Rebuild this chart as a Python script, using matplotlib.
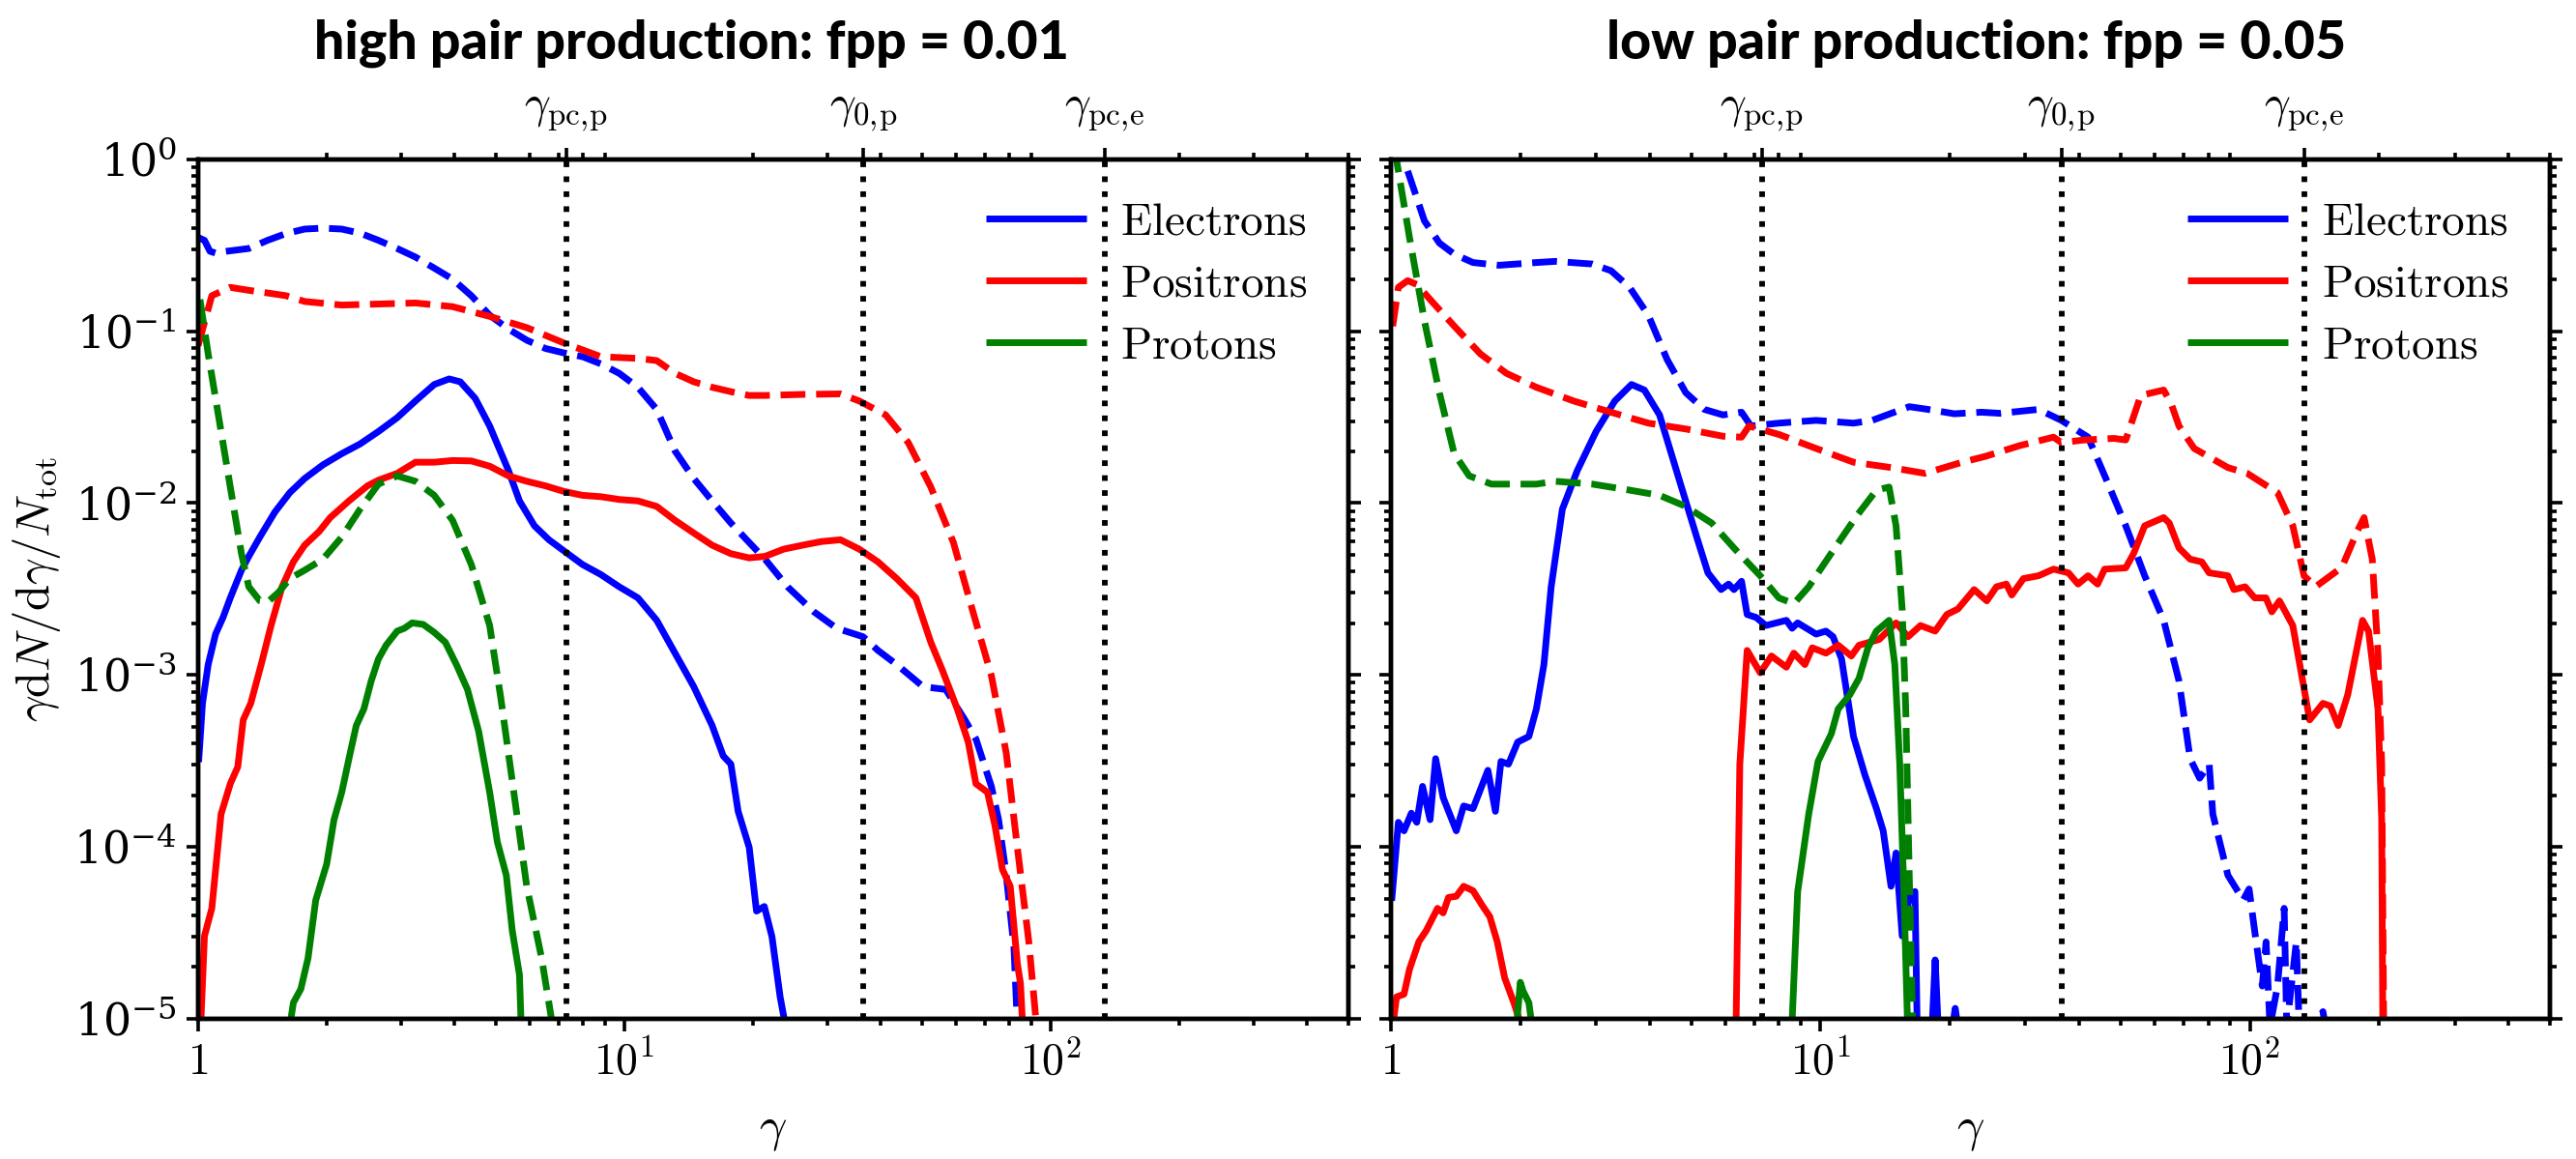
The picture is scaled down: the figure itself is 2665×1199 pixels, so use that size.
import matplotlib
matplotlib.use("Agg")
import matplotlib.pyplot as plt
from matplotlib.ticker import NullFormatter, LogLocator
from matplotlib.lines import Line2D

plt.rcParams['mathtext.fontset'] = 'cm'
plt.rcParams['font.family'] = 'serif'
plt.rcParams['font.serif'] = ['DejaVu Serif']

# ---------------- fpp = 0.01 (high pair production) ----------------
hi_e_dash_g = [1.0, 1.035, 1.066, 1.099, 1.167, 1.315, 1.455, 1.607, 1.778, 1.963, 2.173, 2.399, 2.649,
               2.931, 3.236, 3.581, 3.954, 4.375, 4.831, 5.346, 5.902, 6.531, 7.211, 7.98, 8.81, 9.727,
               10.76, 11.91, 13.15, 14.55, 16.07, 17.78, 19.63, 21.38, 24.15, 27.86, 31.48, 36.31, 39.36,
               43.55, 50.23, 56.75, 62.95, 66.83, 72.61, 75.51, 78.7, 82.04, 83.6]
hi_e_dash_f = [0.351, 0.338, 0.292, 0.285, 0.292, 0.303, 0.338, 0.370, 0.393, 0.398, 0.393, 0.372, 0.338,
               0.303, 0.270, 0.233, 0.201, 0.161, 0.124, 0.103, 0.0887, 0.0794, 0.0748, 0.0711, 0.0646, 0.0569,
               0.0472, 0.0351, 0.0201, 0.0139, 0.0103, 0.00766, 0.0059, 0.00472, 0.00326, 0.00233, 0.00187,
               0.00167, 0.00139, 0.00115, 0.000855, 0.000824, 0.000548, 0.000423, 0.000225, 0.000144,
               6.84e-5, 2.61e-5, 9e-6]

hi_p_dash_g = [1.0, 1.077, 1.19, 1.315, 1.455, 1.607, 1.778, 2.173, 2.649, 3.236, 3.954, 4.831, 5.902,
               7.211, 8.81, 10.76, 11.91, 13.15, 14.55, 16.07, 17.78, 19.63, 21.38, 26.18, 32.14, 35.56,
               41.02, 46.35, 52.36, 59.16, 65.46, 72.61, 78.7, 83.56, 88.9, 92.7]
hi_p_dash_f = [0.0824, 0.161, 0.180, 0.173, 0.167, 0.161, 0.149, 0.142, 0.144, 0.146, 0.139, 0.122, 0.105,
               0.0855, 0.0711, 0.0695, 0.0675, 0.0569, 0.0508, 0.0472, 0.0445, 0.0423, 0.0423, 0.0429, 0.0432,
               0.0393, 0.0326, 0.0225, 0.0124, 0.0059, 0.00242, 0.000993, 0.000351, 9.93e-5, 2.81e-5, 9e-6]

hi_i_dash_g = [1.01, 1.056, 1.121, 1.19, 1.264, 1.315, 1.396, 1.455, 1.545, 1.641, 1.778, 1.963, 2.173,
               2.399, 2.649, 2.931, 3.236, 3.581, 3.954, 4.375, 4.831, 5.129, 5.458, 5.902, 6.397, 6.792]
hi_i_dash_f = [0.153, 0.0738, 0.0303, 0.0124, 0.00508, 0.00326, 0.0027, 0.00265, 0.00303, 0.00364, 0.00407,
               0.00472, 0.00635, 0.00922, 0.0129, 0.0144, 0.0134, 0.0111, 0.00794, 0.00439, 0.00194,
               0.000738, 0.000242, 5.9e-5, 2.25e-5, 9e-6]

hi_e_sol_g = [1.004, 1.024, 1.056, 1.099, 1.144, 1.19, 1.264, 1.315, 1.396, 1.514, 1.641, 1.778, 1.963,
              2.173, 2.399, 2.649, 2.931, 3.236, 3.581, 3.882, 4.121, 4.467, 4.831, 5.346, 5.675, 6.152,
              6.653, 7.211, 7.98, 8.81, 9.727, 10.76, 11.91, 13.15, 14.55, 16.07, 17.06, 17.78, 18.49,
              19.63, 20.42, 21.3, 22.2, 23.2, 23.9]
hi_e_sol_f = [3.26e-4, 6.84e-4, 1.15e-3, 1.73e-3, 2.16e-3, 2.81e-3, 4.07e-3, 4.9e-3, 6.35e-3, 8.87e-3,
              0.0115, 0.0139, 0.0167, 0.0194, 0.0221, 0.0261, 0.0314, 0.0393, 0.049, 0.0528, 0.0508, 0.0407,
              0.0281, 0.0155, 0.0103, 0.00738, 0.00612, 0.00528, 0.00439, 0.00384, 0.00326, 0.00281,
              0.00208, 0.00134, 0.000855, 0.000508, 0.000338, 0.000303, 0.000161, 9.93e-5, 4.23e-5,
              4.5e-5, 3.0e-5, 1.34e-5, 9e-6]

hi_p_sol_g = [1.014, 1.035, 1.077, 1.132, 1.19, 1.239, 1.276, 1.329, 1.411, 1.483, 1.574, 1.673, 1.778,
              1.923, 2.042, 2.259, 2.496, 2.649, 2.931, 3.236, 3.581, 3.954, 4.375, 4.831, 5.346, 5.902,
              6.531, 7.211, 7.98, 8.81, 9.727, 10.76, 11.91, 13.15, 14.55, 16.07, 17.78, 19.63, 21.38,
              23.66, 26.18, 29.04, 32.14, 35.56, 39.36, 43.55, 48.31, 52.36, 55.7, 60.4, 64.1, 66.8, 71.1,
              74.0, 77.1, 80.4, 83.6, 85.0, 86.0]
hi_p_sol_f = [9e-6, 3.03e-5, 4.39e-5, 1.55e-4, 2.33e-4, 2.92e-4, 5.48e-4, 6.84e-4, 1.19e-3, 1.94e-3,
              3.26e-3, 4.55e-3, 5.69e-3, 6.84e-3, 8.24e-3, 0.0103, 0.0126, 0.0136, 0.0149, 0.0173, 0.0173,
              0.0177, 0.0176, 0.0164, 0.0144, 0.0134, 0.0126, 0.0117, 0.0111, 0.0109, 0.0105, 0.0103,
              0.00957, 0.00794, 0.0067, 0.00569, 0.00508, 0.0048, 0.0049, 0.0054, 0.00569, 0.00598,
              0.00612, 0.0054, 0.00455, 0.00364, 0.00281, 0.00155, 0.00107, 0.000635, 0.000407, 0.000233,
              0.000208, 0.000134, 7.38e-5, 5.9e-5, 2.08e-5, 1.6e-5, 9e-6]

hi_i_sol_g = [1.641, 1.673, 1.742, 1.811, 1.888, 2.003, 2.084, 2.173, 2.259, 2.35, 2.449, 2.547, 2.649,
              2.761, 2.931, 3.048, 3.177, 3.373, 3.581, 3.802, 4.036, 4.285, 4.55, 4.831, 5.035, 5.285,
              5.458, 5.675, 5.728]
hi_i_sol_f = [9e-6, 1.24e-5, 1.49e-5, 2.25e-5, 4.9e-5, 7.94e-5, 1.44e-4, 2.08e-4, 3.26e-4, 5.08e-4,
              6.35e-4, 9.22e-4, 1.24e-3, 1.49e-3, 1.80e-3, 1.87e-3, 2.01e-3, 1.97e-3, 1.77e-3, 1.55e-3,
              1.15e-3, 8.24e-4, 4.72e-4, 2.08e-4, 1.07e-4, 6.84e-5, 3.26e-5, 1.8e-5, 9e-6]

# ---------------- fpp = 0.05 (low pair production) ----------------
lo_e_dash_g = [1.0, 1.072, 1.127, 1.196, 1.296, 1.403, 1.552, 1.785, 2.18, 2.41, 2.944, 3.253, 3.594,
               3.973, 4.395, 4.857, 5.364, 5.93, 6.55, 6.89, 8.0, 9.77, 11.94, 13.2, 16.1, 17.8, 20.5,
               23.7, 26.2, 32.2, 36.4, 42.0, 46.5, 51.4, 56.9, 63.0, 68.4, 72.6, 76.4, 80.4, 82.0, 88.9,
               96.5, 99.6, 102.6, 106.9, 109.1, 111.4, 116, 120.2, 121.9, 128.3, 130.3, 140, 148, 150]
lo_e_dash_f = [1.3, 0.99, 0.684, 0.439, 0.326, 0.281, 0.251, 0.242, 0.251, 0.255, 0.246, 0.225, 0.180,
               0.124, 0.0684, 0.0439, 0.0351, 0.0326, 0.0338, 0.0281, 0.0292, 0.0303, 0.0292, 0.0303,
               0.0364, 0.0351, 0.0331, 0.0338, 0.0333, 0.0351, 0.0303, 0.0242, 0.0134, 0.00738, 0.00378,
               0.00208, 0.000922, 0.000326, 0.000251, 0.000303, 0.000155, 6.84e-5, 4.9e-5, 5.69e-5,
               3.26e-5, 1.55e-5, 2.8e-5, 9e-6, 1.55e-5, 4.39e-5, 9e-6, 2.8e-5, 9e-6, 9e-6, 1.1e-5, 9e-6]

lo_p_dash_g = [1.009, 1.04, 1.093, 1.149, 1.245, 1.404, 1.615, 1.857, 2.18, 2.661, 3.251, 3.972, 4.856,
               5.93, 6.55, 6.82, 8.0, 9.77, 11.94, 14.6, 17.5, 21.4, 24.2, 29.1, 34.9, 36.4, 41.1, 48.3,
               51.4, 55.7, 63.0, 65.6, 68.4, 74.2, 88.9, 98.6, 116, 125.9, 133.7, 142.2, 163.8, 177.8,
               184.5, 192.8, 198.8, 202.8, 205]
lo_p_dash_f = [0.107, 0.180, 0.197, 0.187, 0.149, 0.107, 0.0738, 0.0569, 0.0472, 0.0393, 0.0338, 0.0292,
               0.027, 0.0245, 0.0242, 0.0281, 0.0251, 0.0208, 0.0173, 0.0161, 0.0149, 0.0173, 0.0187,
               0.0216, 0.0242, 0.0225, 0.0233, 0.0238, 0.0233, 0.0423, 0.0455, 0.0378, 0.0281, 0.0208,
               0.0161, 0.0149, 0.0115, 0.00738, 0.00378, 0.00326, 0.00423, 0.00684, 0.00824, 0.00472,
               0.00134, 0.000303, 9e-6]

lo_i_dash_g = [1.0, 1.03, 1.104, 1.196, 1.296, 1.403, 1.521, 1.714, 2.18, 2.41, 2.944, 3.594, 4.22,
               4.857, 5.58, 6.29, 7.24, 8.0, 8.67, 9.39, 10.8, 12.2, 13.5, 14.45, 15.0, 15.5, 15.8, 16.1, 16.4]
lo_i_dash_f = [1.15, 0.99, 0.351, 0.115, 0.0439, 0.0194, 0.0144, 0.0129, 0.0129, 0.0134, 0.0129, 0.0119,
               0.0111, 0.00957, 0.00766, 0.00548, 0.00378, 0.00281, 0.0026, 0.00326, 0.00548, 0.00855,
               0.0119, 0.0124, 0.00738, 0.00242, 0.000635, 6.84e-5, 9e-6]

lo_e_sol_g = [1.005, 1.04, 1.072, 1.115, 1.148, 1.184, 1.233, 1.27, 1.322, 1.419, 1.476, 1.552, 1.681,
              1.75, 1.803, 1.877, 1.972, 2.094, 2.18, 2.27, 2.36, 2.506, 2.716, 3.003, 3.32, 3.63, 3.89,
              4.22, 4.66, 5.15, 5.47, 5.87, 6.11, 6.29, 6.55, 6.75, 7.09, 7.46, 8.33, 8.59, 8.85, 9.77,
              10.3, 10.7, 11.2, 11.94, 12.7, 13.5, 14.0, 14.6, 15.0, 15.5, 16.1, 16.6, 16.8, 18.2, 18.5,
              18.8, 20.3, 20.6, 20.9]
lo_e_sol_f = [5.08e-5, 1.39e-4, 1.24e-4, 1.57e-4, 1.39e-4, 2.25e-4, 1.44e-4, 3.26e-4, 1.94e-4, 1.24e-4,
              1.73e-4, 1.67e-4, 2.79e-4, 1.61e-4, 3.14e-4, 3.03e-4, 4.07e-4, 4.39e-4, 6.35e-4, 1.15e-3,
              3.26e-3, 9.22e-3, 0.0155, 0.0261, 0.0393, 0.049, 0.0455, 0.0326, 0.0144, 0.00635, 0.00393,
              0.00314, 0.00338, 0.00314, 0.00351, 0.00225, 0.00216, 0.00194, 0.00208, 0.00187, 0.00201,
              0.00173, 0.0018, 0.00167, 0.00124, 4.39e-4, 2.61e-4, 1.67e-4, 1.24e-4, 5.9e-5, 9.22e-5,
              3.03e-5, 5.08e-5, 5.5e-5, 9e-6, 9e-6, 2.2e-5, 9e-6, 9e-6, 1.15e-5, 9e-6]

lo_p_sol_g = [1.009, 1.03, 1.072, 1.104, 1.161, 1.208, 1.283, 1.322, 1.361, 1.419, 1.476, 1.552, 1.632,
              1.698, 1.767, 1.839, 1.932, 2.013, 6.36, 6.49, 6.75, 7.24, 7.69, 8.33, 8.67, 9.2, 9.57, 10.3,
              11.0, 11.8, 12.3, 13.7, 15.0, 16.0, 17.1, 18.5, 19.7, 20.9, 22.8, 24.4, 25.7, 27.1, 27.9,
              29.7, 32.2, 34.9, 37.8, 39.8, 42.0, 44.2, 45.9, 51.4, 53.6, 56.9, 63.0, 64.9, 68.4, 72.6,
              77.3, 80.4, 88.9, 91.8, 97.5, 102.6, 109, 112.5, 117.2, 125.9, 137.8, 148, 154, 160.6, 169,
              183, 189, 198.8, 202.8, 204]
lo_p_sol_f = [9e-6, 1.34e-5, 1.39e-5, 1.94e-5, 2.81e-5, 3.26e-5, 4.39e-5, 4.13e-5, 5.08e-5, 5.16e-5,
              5.9e-5, 5.56e-5, 4.55e-5, 3.93e-5, 2.81e-5, 1.73e-5, 1.24e-5, 9e-6, 9e-6, 3.03e-4, 1.39e-3,
              1.03e-3, 1.29e-3, 1.11e-3, 1.34e-3, 1.15e-3, 1.44e-3, 1.34e-3, 1.49e-3, 1.29e-3, 1.49e-3,
              1.61e-3, 2.01e-3, 1.67e-3, 1.94e-3, 1.8e-3, 2.25e-3, 2.42e-3, 3.14e-3, 2.7e-3, 3.26e-3,
              3.38e-3, 2.92e-3, 3.64e-3, 3.78e-3, 4.13e-3, 3.93e-3, 3.38e-3, 3.78e-3, 3.38e-3, 4.13e-3,
              4.2e-3, 5.08e-3, 7.38e-3, 8.24e-3, 7.66e-3, 5.48e-3, 4.72e-3, 4.55e-3, 3.93e-3, 3.78e-3,
              3.14e-3, 3.26e-3, 2.81e-3, 2.81e-3, 2.33e-3, 2.7e-3, 1.94e-3, 5.48e-4, 6.84e-4, 6.6e-4,
              5.08e-4, 7.66e-4, 2.08e-3, 1.8e-3, 6.35e-4, 1.44e-4, 9e-6]

lo_i_sol_g = [1.96, 2.0, 2.03, 2.094, 2.13, 8.58, 8.85, 9.39, 9.87, 10.6, 11.0, 11.7, 12.3, 12.9, 13.5,
              14.45, 14.9, 15.3, 15.6, 15.96]
lo_i_sol_f = [9e-6, 1.63e-5, 1.45e-5, 1.24e-5, 9e-6, 9e-6, 5.48e-5, 1.55e-4, 3.14e-4, 4.55e-4, 6.35e-4,
              7.66e-4, 9.57e-4, 1.44e-3, 1.8e-3, 2.08e-3, 1.15e-3, 3.03e-4, 6.84e-5, 9e-6]

# characteristic Lorentz factors marked on the top axis
gamma_marks = [7.3, 36.4, 134]
gamma_mark_labels = [r'$\gamma_{\mathrm{pc,\!p}}$', r'$\gamma_{0,\!\mathrm{p}}$', r'$\gamma_{\mathrm{pc,\!e}}$']

species = ['Electrons', 'Positrons', 'Protons']
colors = ['blue', 'red', 'green']
titles = ['high pair production: fpp = 0.01', 'low pair production: fpp = 0.05']

panels = [
    [(hi_e_sol_g, hi_e_sol_f, hi_e_dash_g, hi_e_dash_f),
     (hi_p_sol_g, hi_p_sol_f, hi_p_dash_g, hi_p_dash_f),
     (hi_i_sol_g, hi_i_sol_f, hi_i_dash_g, hi_i_dash_f)],
    [(lo_e_sol_g, lo_e_sol_f, lo_e_dash_g, lo_e_dash_f),
     (lo_p_sol_g, lo_p_sol_f, lo_p_dash_g, lo_p_dash_f),
     (lo_i_sol_g, lo_i_sol_f, lo_i_dash_g, lo_i_dash_f)],
]

LW = 2.5
fig = plt.figure(figsize=(13.325, 5.995), dpi=200)
ax_l = fig.add_axes([0.0769, 0.121, 0.4466, 0.7415])
ax_r = fig.add_axes([0.540, 0.121, 0.4499, 0.7415], sharey=ax_l)
title_x = [715 / 2665, 2045 / 2665]

for k, ax in enumerate([ax_l, ax_r]):
    for (gs, fs, gd, fd), c in zip(panels[k], colors):
        ax.plot(gd, fd, '--', color=c, lw=LW)
        ax.plot(gs, fs, '-', color=c, lw=LW)
    for g in gamma_marks:
        ax.axvline(g, color='black', ls=':', lw=2.1)

    ax.set_xscale('log')
    ax.set_yscale('log')
    ax.set_xlim(1, 500)
    ax.set_ylim(1e-5, 1)
    ax.set_xticks([1, 10, 100])
    ax.set_xticklabels([r'$1$', r'$10^1$', r'$10^2$'])
    ax.xaxis.set_minor_formatter(NullFormatter())
    ax.yaxis.set_major_locator(LogLocator(base=10, numticks=10))
    ax.yaxis.set_minor_locator(LogLocator(base=10, subs=range(2, 10), numticks=20))
    ax.yaxis.set_minor_formatter(NullFormatter())
    ax.tick_params(which='both', direction='out', top=False, right=True, labelsize=16.5, width=1.3)
    ax.tick_params(which='major', length=4.5)
    ax.tick_params(which='minor', length=2.6)
    for sp in ax.spines.values():
        sp.set_linewidth(1.6)
    ax.set_xlabel(r'$\gamma$', fontsize=18, labelpad=8)

    top = ax.twiny()
    top.set_xscale('log')
    top.set_xlim(ax.get_xlim())
    top.set_xticks(gamma_marks)
    top.set_xticklabels(gamma_mark_labels)
    top.xaxis.set_minor_formatter(NullFormatter())
    top.tick_params(which='both', direction='out', labelsize=17, width=1.3, pad=5)
    top.tick_params(which='major', length=4.5)
    top.tick_params(which='minor', length=2.6)
    for sp in top.spines.values():
        sp.set_linewidth(1.6)

    handles = [Line2D([], [], color=c, lw=LW, solid_capstyle='butt') for c in colors]
    ax.legend(handles, [r'$\mathrm{%s}$' % s for s in species], loc='upper right',
              bbox_to_anchor=(1.0, 1.0), frameon=False, fontsize=17,
              handlelength=2.2, handletextpad=0.75, labelspacing=0.4)

    fig.text(title_x[k], 1 - 45 / 1199, titles[k], ha='center', va='center',
             fontsize=20, fontweight='black', family='Lato')

ax_l.set_ylabel(r'$\gamma{\rm d}N/{\rm d}\gamma/N_{\rm tot}$', fontsize=17.5)
plt.setp(ax_r.get_yticklabels(), visible=False)

fig.savefig('out.png', dpi=200)
